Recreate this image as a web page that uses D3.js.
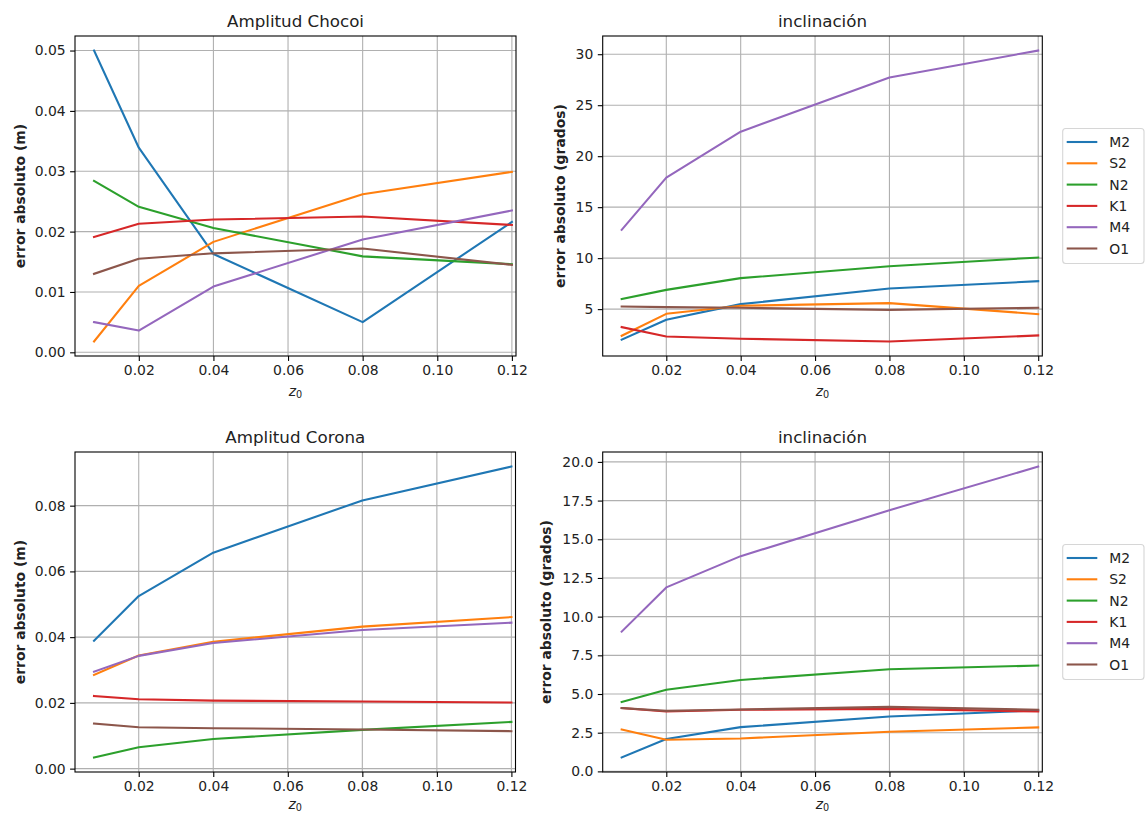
<!DOCTYPE html>
<html>
<head>
<meta charset="utf-8">
<script src="https://cdn.jsdelivr.net/npm/d3@7"></script>
<style>
  html, body { margin: 0; padding: 0; background: #fff; }
  svg { display: block; }
  text { font-family: "DejaVu Sans", sans-serif; fill: #222; }
</style>
</head>
<body>
<svg id="chart" width="1145" height="814"></svg>
<script>
// ---- data ----
const z0 = [0.008, 0.02, 0.04, 0.08, 0.12];
const constituents = ["M2", "S2", "N2", "K1", "M4", "O1"];
const colors = ["#1f77b4", "#ff7f0e", "#2ca02c", "#d62728", "#9467bd", "#8c564b"];

// Amplitud Chocoi (m) — rows in order M2, S2, N2, K1, M4, O1
const ampChocoi = [
  [0.0500, 0.0339, 0.0163, 0.0050, 0.0216],
  [0.0018, 0.0110, 0.0183, 0.0262, 0.0299],
  [0.0284, 0.0241, 0.0206, 0.0159, 0.0146],
  [0.0191, 0.0213, 0.0220, 0.0225, 0.0211],
  [0.0050, 0.0036, 0.0109, 0.0187, 0.0235],
  [0.0130, 0.0155, 0.0164, 0.0172, 0.0145]
];
// inclinación Chocoi (grados)
const incChocoi = [
  [2.00, 3.96, 5.49, 7.02, 7.74],
  [2.39, 4.54, 5.33, 5.59, 4.51],
  [5.98, 6.89, 8.04, 9.21, 10.06],
  [3.24, 2.32, 2.10, 1.83, 2.42],
  [12.77, 17.89, 22.40, 27.72, 30.36],
  [5.26, 5.20, 5.13, 4.93, 5.13]
];
// Amplitud Corona (m)
const ampCorona = [
  [0.0389, 0.0525, 0.0657, 0.0816, 0.0919],
  [0.0285, 0.0344, 0.0386, 0.0432, 0.0461],
  [0.0034, 0.0065, 0.0090, 0.0118, 0.0142],
  [0.0221, 0.0211, 0.0207, 0.0204, 0.0201],
  [0.0295, 0.0343, 0.0382, 0.0422, 0.0444],
  [0.0137, 0.0126, 0.0123, 0.0119, 0.0114]
];
// inclinación Corona (grados)
const incCorona = [
  [0.90, 2.09, 2.86, 3.55, 3.94],
  [2.71, 2.04, 2.13, 2.56, 2.84],
  [4.49, 5.27, 5.91, 6.60, 6.84],
  [4.09, 3.87, 3.98, 4.04, 3.87],
  [9.03, 11.89, 13.91, 16.88, 19.70],
  [4.09, 3.91, 4.00, 4.17, 3.98]
];

const xTicks = [0.02, 0.04, 0.06, 0.08, 0.10, 0.12];
const yTicksAmpChocoi = [0, 0.01, 0.02, 0.03, 0.04, 0.05];
const yTicksIncChocoi = [5, 10, 15, 20, 25, 30];
const yTicksAmpCorona = [0, 0.02, 0.04, 0.06, 0.08];
const yTicksIncCorona = [0, 2.5, 5, 7.5, 10, 12.5, 15, 17.5, 20];

const titles = ["Amplitud Chocoi", "inclinación", "Amplitud Corona", "inclinación"];
const yLabels = ["error absoluto (m)", "error absoluto (grados)", "error absoluto (m)", "error absoluto (grados)"];

// ---- layout ----
const panels = [
  { data: ampChocoi, ticks: yTicksAmpChocoi, fmt: d3.format(".2f"), x0: 75, x1: 516, y0: 36, y1: 356, ylx: 20, xlb: 396, legend: false },
  { data: incChocoi, ticks: yTicksIncChocoi, fmt: d3.format("d"), x0: 602.7, x1: 1042.3, y0: 36, y1: 356, ylx: 560, xlb: 396, legend: true },
  { data: ampCorona, ticks: yTicksAmpCorona, fmt: d3.format(".2f"), x0: 75, x1: 515.5, y0: 452, y1: 772, ylx: 20, xlb: 809, legend: false },
  { data: incCorona, ticks: yTicksIncCorona, fmt: d3.format(".1f"), x0: 602.7, x1: 1042.3, y0: 452, y1: 772, ylx: 546, xlb: 809, legend: true }
];

const svg = d3.select("#chart");
const FS = 13.9;

panels.forEach((p, i) => {
  const all = p.data.flat();
  const mn = d3.min(all), mx = d3.max(all);
  const m = (mx - mn) * 0.05;
  const x = d3.scaleLinear().domain([0.0029, 0.1211]).range([p.x0, p.x1]);
  const y = d3.scaleLinear().domain([mn - m, mx + m]).range([p.y1, p.y0]);
  const g = svg.append("g");

  // grid
  g.append("g").selectAll("line").data(xTicks).join("line")
    .attr("x1", d => x(d)).attr("x2", d => x(d))
    .attr("y1", p.y0).attr("y2", p.y1)
    .attr("stroke", "#b0b0b0").attr("stroke-width", 1.1);
  g.append("g").selectAll("line").data(p.ticks).join("line")
    .attr("x1", p.x0).attr("x2", p.x1)
    .attr("y1", d => y(d)).attr("y2", d => y(d))
    .attr("stroke", "#b0b0b0").attr("stroke-width", 1.1);

  // lines
  const line = d3.line().x((d, j) => x(z0[j])).y(d => y(d));
  const clipId = "clip" + i;
  svg.append("clipPath").attr("id", clipId).append("rect")
    .attr("x", p.x0).attr("y", p.y0).attr("width", p.x1 - p.x0).attr("height", p.y1 - p.y0);
  g.append("g").attr("clip-path", `url(#${clipId})`).selectAll("path").data(p.data).join("path")
    .attr("d", d => line(d))
    .attr("fill", "none")
    .attr("stroke", (d, k) => colors[k])
    .attr("stroke-width", 2.08)
    .attr("stroke-linejoin", "round")
    .attr("stroke-linecap", "square");

  // axes
  const xAxis = d3.axisBottom(x).tickValues(xTicks).tickFormat(d3.format(".2f")).tickSize(4.9).tickPadding(4.5);
  const yAxis = d3.axisLeft(y).tickValues(p.ticks).tickFormat(p.fmt).tickSize(4.9).tickPadding(4.5);
  const gx = g.append("g").attr("transform", `translate(0,${p.y1})`).call(xAxis);
  const gy = g.append("g").attr("transform", `translate(${p.x0},0)`).call(yAxis);
  [gx, gy].forEach(a => {
    a.select(".domain").remove();
    a.selectAll(".tick line").attr("stroke", "#000").attr("stroke-width", 1.1);
    a.selectAll(".tick text").attr("font-size", FS + "px").attr("font-family", "DejaVu Sans").attr("fill", "#222");
  });

  // frame
  g.append("rect").attr("x", p.x0).attr("y", p.y0)
    .attr("width", p.x1 - p.x0).attr("height", p.y1 - p.y0)
    .attr("fill", "none").attr("stroke", "#000").attr("stroke-width", 1.1);

  // title
  g.append("text").attr("x", (p.x0 + p.x1) / 2).attr("y", p.y0 - 9)
    .attr("text-anchor", "middle").attr("font-size", "16.7px").text(titles[i]);

  // x label
  const xl = g.append("text").attr("x", (p.x0 + p.x1) / 2).attr("y", p.xlb)
    .attr("text-anchor", "middle").attr("font-size", FS + "px");
  xl.append("tspan").attr("font-style", "italic").text("z");
  xl.append("tspan").attr("font-size", "9.7px").attr("dy", 2).text("0");

  // y label
  g.append("text")
    .attr("transform", `translate(${p.ylx + 5},${(p.y0 + p.y1) / 2}) rotate(-90)`)
    .attr("text-anchor", "middle").attr("font-size", FS + "px").attr("font-weight", "bold")
    .attr("fill", "#000")
    .text(yLabels[i]);

  // legend
  if (p.legend) {
    const cy = (p.y0 + p.y1) / 2;
    const h = 135, top = cy - h / 2;
    const lg = svg.append("g");
    lg.append("rect").attr("x", 1062.7).attr("y", top).attr("width", 81.3).attr("height", h)
      .attr("rx", 3).attr("fill", "#fff").attr("fill-opacity", 0.8)
      .attr("stroke", "#d6d6d6").attr("stroke-width", 1.1);
    constituents.forEach((c, k) => {
      const yy = top + 13.5 + k * 21.3;
      lg.append("line").attr("x1", 1066.7).attr("x2", 1097.3).attr("y1", yy).attr("y2", yy)
        .attr("stroke", colors[k]).attr("stroke-width", 2.08);
      lg.append("text").attr("x", 1109.3).attr("y", yy + 5).attr("font-size", FS + "px").text(c);
    });
  }
});
</script>
</body>
</html>
